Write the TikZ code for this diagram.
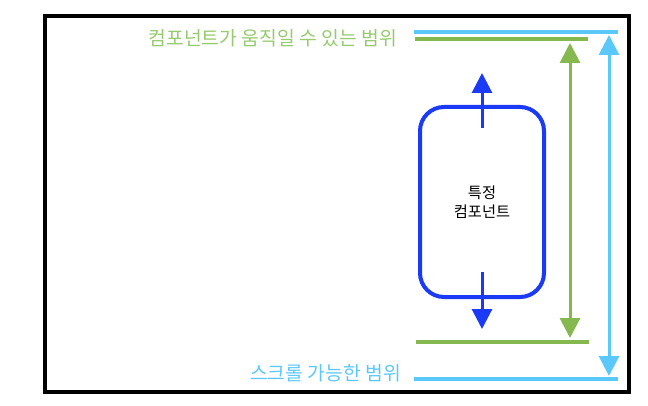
\documentclass[tikz,border=0pt]{standalone}
\usepackage{fontspec}
\setmainfont{Noto Sans CJK KR}
\usepackage{tikz}
\usetikzlibrary{arrows.meta, positioning}
\definecolor{scrollblue}{RGB}{90, 200, 250}
\definecolor{movegreen}{RGB}{134, 184, 80}
\definecolor{labelgreen}{RGB}{150, 202, 110}
\definecolor{compblue}{RGB}{26, 58, 245}

\begin{document}
\begin{tikzpicture}[x=1pt, y=-1pt,
    rangeline/.style={line width=3.5pt},
    rangearrow/.style={line width=3pt, {Triangle[length=20pt, width=20pt]}-{Triangle[length=20pt, width=20pt]}},
    movearrow/.style={line width=3pt, compblue, -{Triangle[length=20pt, width=20pt]}},
    rangelabel/.style={anchor=east, font=\fontsize{19.3}{23}\selectfont, inner sep=0pt}]
    \useasboundingbox (0,0) rectangle (648,406);

    % Frame
    \draw[line width=4pt] (45,16) rectangle (629,392);

    % Component
    \node[draw=compblue, line width=4pt, rounded corners=24pt, minimum width=124pt, minimum height=190pt,
          align=center, font=\fontsize{15.3}{18.5}\selectfont] (comp) at (482,202) {특정\\컴포넌트};

    % Scrollable range (blue)
    \coordinate (scrTopL) at (414,32);
    \coordinate (scrTopR) at (618,32);
    \coordinate (scrBotL) at (414,379);
    \coordinate (scrBotR) at (618,379);
    \draw[rangeline, scrollblue] (scrTopL) -- (scrTopR);
    \draw[rangeline, scrollblue] (scrBotL) -- (scrBotR);
    \coordinate (scrUp) at (609,35);
    \coordinate (scrDown) at (609,376);
    \draw[rangearrow, scrollblue] (scrUp) -- (scrDown);
    \node[rangelabel, text=scrollblue] (scrlbl) at (401,373) {스크롤 가능한 범위};

    % Movable range (green)
    \coordinate (mvTopL) at (415,39);
    \coordinate (mvTopR) at (588,39);
    \coordinate (mvBotL) at (416,342);
    \coordinate (mvBotR) at (589,342);
    \draw[rangeline, movegreen] (mvTopL) -- (mvTopR);
    \draw[rangeline, movegreen] (mvBotL) -- (mvBotR);
    \coordinate (mvUp) at (570,43);
    \coordinate (mvDown) at (570,338);
    \draw[rangearrow, movegreen] (mvUp) -- (mvDown);
    \node[rangelabel, text=labelgreen] (mvlbl) at (397,38) {컴포넌트가 움직일 수 있는 범위};

    % Movement arrows
    \coordinate (compUp) at (482,73);
    \coordinate (compDown) at (482,329);
    \draw[movearrow] (comp.center |- 0,128) -- (compUp);
    \draw[movearrow] (comp.center |- 0,272) -- (compDown);
\end{tikzpicture}
\end{document}
